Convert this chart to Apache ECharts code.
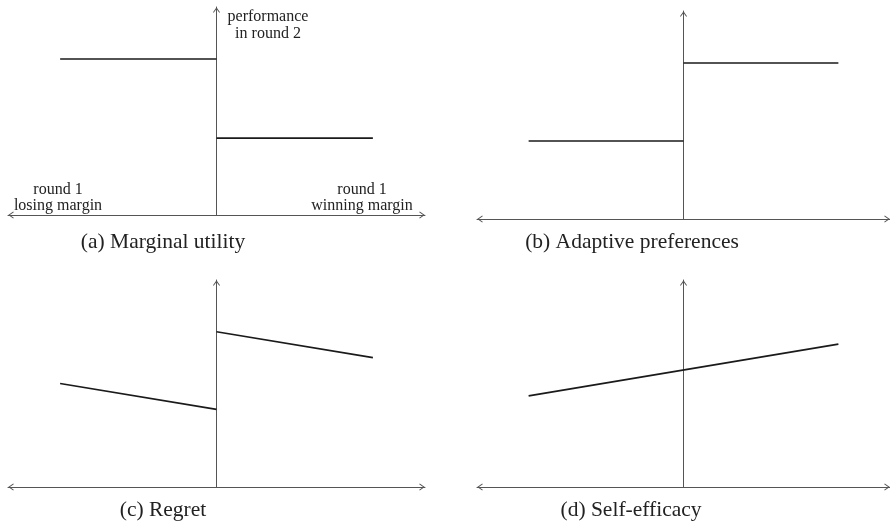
<!DOCTYPE html>
<html>
<head>
<meta charset="utf-8">
<title>Round 2 performance by round 1 margin</title>
<script src="https://cdn.jsdelivr.net/npm/echarts@6/dist/echarts.min.js"></script>
<style>
  html, body { margin: 0; padding: 0; background: #fff; }
  #chart { width: 890px; height: 523px; }
</style>
</head>
<body>
<div id="chart"></div>
<script>
// Round 1 margin: losing side (left of the cutoff) and winning side (right of it)
const xLose = [-0.75, 0];
const xWin = [0, 0.75];
const xAll = [-0.75, 0.75];

// (a) Marginal utility
const utilityLose = [0.75, 0.75];
const utilityWin = [0.37, 0.37];
// (b) Adaptive preferences
const adaptiveLose = [0.375, 0.375];
const adaptiveWin = [0.75, 0.75];
// (c) Regret
const regretLose = [0.5, 0.375];
const regretWin = [0.75, 0.625];
// (d) Self-efficacy
const efficacy = [0.44, 0.69];

const captions = ['(a) Marginal utility', '(b) Adaptive preferences', '(c) Regret', '(d) Self-efficacy'];
const yAxisTitle = 'performance\nin round 2';
const loseTitle = 'round 1\nlosing margin';
const winTitle = 'round 1\nwinning margin';

const SERIF = '"Liberation Serif", "DejaVu Serif", serif';
const AXIS_COLOR = '#555';
const LINE_COLOR = '#1a1a1a';

// open arrow tip, drawn pointing up
const tip = 'path://M5,0 L10,7.2 L9,8 L5,2.4 L1,8 L0,7.2 Z';

const panels = [
  { left: 8, top: 7, width: 417, height: 208 },
  { left: 477, top: 11, width: 414, height: 208 },
  { left: 8, top: 280, width: 417, height: 207 },
  { left: 477, top: 280, width: 414, height: 207 }
];

function pairs(xs, ys) { return xs.map((x, i) => [x, ys[i]]); }

const xAxes = panels.map((p, i) => ({
  type: 'value', gridIndex: i, min: -1, max: 1,
  axisLine: {
    onZero: false,
    symbol: [tip, tip], symbolSize: [7, 6], symbolOffset: [3, -3],
    lineStyle: { color: AXIS_COLOR, width: 1 }
  },
  axisTick: { show: false }, axisLabel: { show: false }, splitLine: { show: false }
}));

const yAxes = panels.map((p, i) => ({
  type: 'value', gridIndex: i, min: 0, max: 1,
  axisLine: {
    onZero: true,
    symbol: ['none', tip], symbolSize: [7, 6], symbolOffset: [0, -3],
    lineStyle: { color: AXIS_COLOR, width: 1 }
  },
  axisTick: { show: false }, axisLabel: { show: false }, splitLine: { show: false }
}));

function seg(i, data) {
  return {
    type: 'line', xAxisIndex: i, yAxisIndex: i, data: data,
    showSymbol: false, symbol: 'none', silent: true, animation: false,
    lineStyle: { color: LINE_COLOR, width: 1.7 }
  };
}

const series = [
  seg(0, pairs(xLose, utilityLose)), seg(0, pairs(xWin, utilityWin)),
  seg(1, pairs(xLose, adaptiveLose)), seg(1, pairs(xWin, adaptiveWin)),
  seg(2, pairs(xLose, regretLose)), seg(2, pairs(xWin, regretWin)),
  seg(3, pairs(xAll, efficacy))
];

function label(text, x, y, size, lh) {
  return {
    type: 'text', x: x, y: y, silent: true,
    style: {
      text: text, fill: '#222', align: 'center', verticalAlign: 'middle',
      font: size + 'px ' + SERIF, lineHeight: lh
    }
  };
}

const captionPos = [[163, 242], [632, 242], [163, 510], [631, 510]];
const graphic = captions.map((c, i) => label(c, captionPos[i][0], captionPos[i][1], 21.5, 24))
  .concat([
    label(yAxisTitle, 268, 25, 16, 17),
    label(loseTitle, 58, 198, 16, 16),
    label(winTitle, 362, 198, 16, 16)
  ]);

const chart = echarts.init(document.getElementById('chart'), null, { renderer: 'canvas' });
chart.setOption({
  animation: false,
  backgroundColor: '#fff',
  grid: panels.map(p => Object.assign({ containLabel: false }, p)),
  xAxis: xAxes,
  yAxis: yAxes,
  series: series,
  graphic: graphic
});
</script>
</body>
</html>
